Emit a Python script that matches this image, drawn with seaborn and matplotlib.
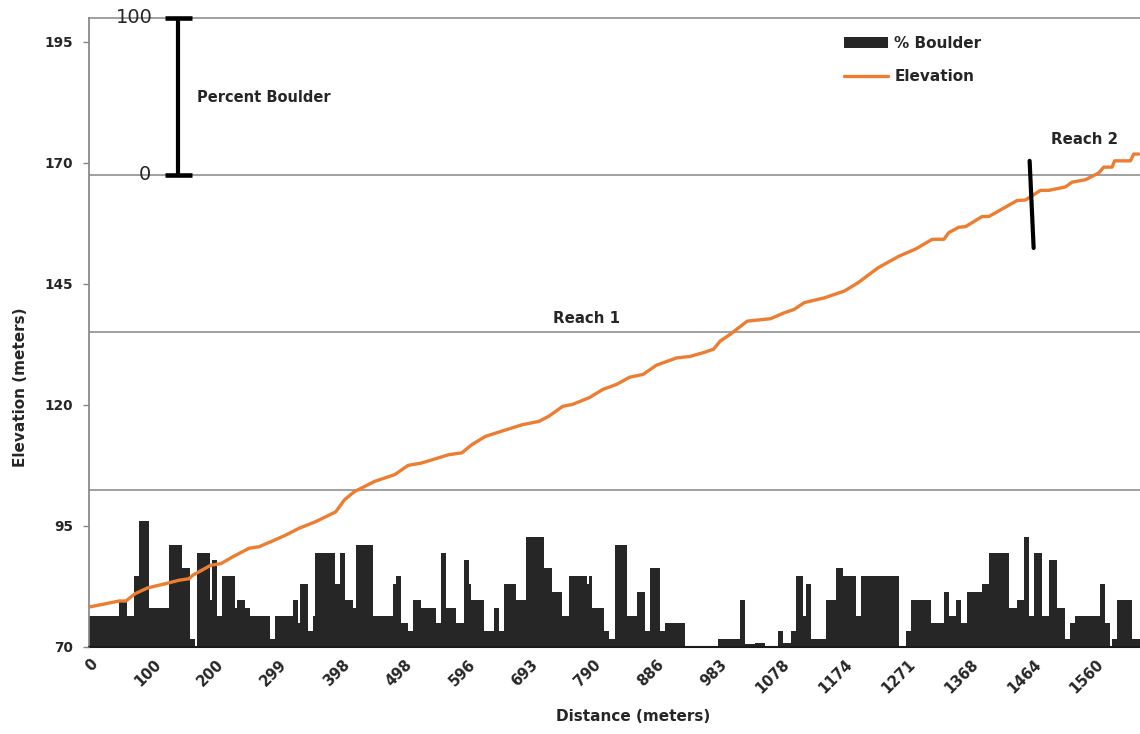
import numpy as np
import pandas as pd
import matplotlib
matplotlib.use("Agg")
import matplotlib.pyplot as plt
from matplotlib.patches import Patch
from matplotlib.lines import Line2D
import seaborn as sns

# Distance (m) printed under every 25th survey station
distance_labels = [0, 100, 200, 299, 398, 498, 596, 693, 790, 886, 983,
                   1078, 1174, 1271, 1368, 1464, 1560]
STATIONS_PER_LABEL = 25
N_STATIONS = 418

# Habitat units: first station of each unit and its percent boulder cover
unit_start = [0, 12, 15, 18, 20, 24, 32, 37, 40, 42, 43, 48, 49, 51, 53, 58, 59,
              62, 64, 72, 74, 81, 83, 84, 87, 89, 90, 98, 100, 102, 105, 106,
              113, 121, 122, 124, 127, 129, 132, 138, 140, 142, 146, 149, 151,
              152, 157, 161, 163, 165, 170, 174, 181, 184, 188, 191, 198, 199,
              200, 205, 207, 209, 214, 218, 221, 223, 227, 229, 237, 250, 259,
              261, 265, 269, 274, 276, 279, 281, 284, 285, 287, 293, 297, 300,
              305, 307, 322, 325, 327, 335, 340, 342, 345, 347, 349, 355, 358,
              366, 369, 372, 374, 376, 379, 382, 385, 388, 390, 392, 402, 404,
              406, 407, 409, 415]
unit_boulder_pct = [20, 30, 20, 45, 80, 25, 65, 50, 5, 0, 60, 30, 55, 20, 45, 25,
                    30, 25, 20, 5, 20, 30, 15, 40, 10, 20, 60, 40, 60, 30, 25, 65,
                    20, 40, 45, 15, 10, 30, 25, 15, 60, 25, 15, 55, 40, 30, 10,
                    25, 10, 40, 30, 70, 50, 35, 20, 45, 40, 45, 25, 10, 5, 65, 20,
                    35, 10, 50, 10, 15, 0, 5, 30, 2, 2.5, 0, 10, 2.5, 10, 45, 20,
                    40, 5, 30, 50, 45, 20, 45, 0, 10, 30, 15, 35, 20, 30, 15, 35,
                    40, 60, 25, 30, 70, 20, 60, 20, 55, 25, 5, 15, 20, 40, 15, 0,
                    5, 30, 5]

# Surveyed water-surface elevation along the channel
profile_station = [0, 11.5, 14.2, 17.8, 22.8, 30.1, 35.4, 39.3, 40.7, 48.0, 51.9,
                   56.6, 63.2, 67.1, 72.5, 77.7, 83.0, 89.7, 97.6, 101.1, 105.1,
                   113.1, 121.1, 126.4, 131.8, 142.5, 147.8, 151.8, 157.2, 163.8,
                   171.8, 178.5, 182.5, 187.9, 191.8, 198.5, 203.9, 209.2, 214.5,
                   219.9, 225.2, 233.2, 238.5, 243.9, 247.9, 250.6, 254.6, 261.3,
                   270.6, 275.9, 279.9, 283.9, 291.9, 299.9, 305.3, 313.3, 321.6,
                   328.3, 334.9, 339.5, 341.5, 345.5, 348.1, 354.7, 357.4, 368.6,
                   371.9, 377.9, 381.2, 387.8, 390.5, 395.8, 401.1, 403.1, 406.4,
                   407.4, 413.7, 415.0, 417.0]
profile_elev = [78.3, 79.5, 79.5, 81.0, 82.2, 83.1, 83.8, 84.1, 84.8, 86.9, 87.2,
                88.6, 90.4, 90.7, 91.9, 93.1, 94.5, 95.9, 97.9, 100.4, 102.1,
                104.2, 105.6, 107.5, 108.0, 109.7, 110.1, 111.8, 113.5, 114.6,
                115.9, 116.6, 117.7, 119.7, 120.1, 121.5, 123.2, 124.2, 125.7,
                126.3, 128.2, 129.7, 130.0, 130.8, 131.5, 133.2, 134.6, 137.3,
                137.8, 139.0, 139.7, 141.1, 142.1, 143.5, 145.2, 148.3, 150.7,
                152.2, 154.2, 154.2, 155.6, 156.7, 156.8, 158.9, 158.9, 162.2,
                162.3, 164.3, 164.3, 165.0, 166.0, 166.5, 167.9, 169.1, 169.1,
                170.4, 170.4, 171.8, 171.8]

BAR_COLOR = "#262626"
LINE_COLOR = "#ED7D31"
GRID_COLOR = "#868686"

sns.set_theme(style="white")
plt.rcParams["font.family"] = ["DejaVu Sans"]

W, H = 1140, 734
fig = plt.figure(figsize=(W / 100, H / 100), dpi=100)
ax = fig.add_axes([89 / W, 1 - 647 / H, 1 - 89 / W, (647 - 17.5) / H])

# Percent boulder as a filled step profile over the habitat units
edges = [s - 0.5 for s in unit_start] + [N_STATIONS - 0.5]
units = pd.DataFrame({
    "station": [(a + b) / 2 for a, b in zip(edges[:-1], edges[1:])],
    "boulder": unit_boulder_pct,
})
sns.histplot(data=units, x="station", weights="boulder", bins=edges,
             element="step", fill=True, color=BAR_COLOR, alpha=1,
             linewidth=0, ax=ax)
ax.set_xlim(-0.5, N_STATIONS - 0.5)
ax.set_ylim(0, 400)
ax.set_yticks([100, 200, 300])
ax.grid(axis="y", color=GRID_COLOR, linewidth=1.1)
ax.grid(axis="x", visible=False)
ax.set_axisbelow(True)
ax.set_ylabel("")

tick_pos = np.arange(len(distance_labels)) * STATIONS_PER_LABEL
ax.set_xticks(tick_pos)
ax.set_xticklabels([str(d) for d in distance_labels], rotation=45, ha="right",
                   rotation_mode="anchor", fontsize=10.5, fontweight="bold")
ax.tick_params(axis="x", length=0, pad=7)
ax.set_xlabel("Distance (meters)", fontsize=11, fontweight="bold", va="top")
ax.xaxis.set_label_coords(0.5176, -0.099)

ax.spines["right"].set_visible(False)
ax.spines["left"].set_color(GRID_COLOR)
ax.spines["top"].set_color(GRID_COLOR)
ax.spines["top"].set_linewidth(1.1)
ax.spines["bottom"].set_color("#1a1a1a")
ax.spines["bottom"].set_linewidth(1.5)

# Elevation profile on its own scale, drawn over the bars
ax2 = ax.twinx()
ax.tick_params(axis="y", left=False, right=False, labelleft=False,
               labelright=False)
sns.lineplot(x=profile_station, y=profile_elev, color=LINE_COLOR,
             linewidth=2.4, ax=ax2)
ax2.set_ylim(70, 200)
ax2.set_yticks([70, 95, 120, 145, 170, 195])
ax2.yaxis.tick_left()
ax2.yaxis.set_label_position("left")
ax2.tick_params(axis="y", left=True, right=False, length=4.3, width=1,
                color=GRID_COLOR, labelsize=9.8, pad=7)
for lab in ax2.get_yticklabels():
    lab.set_fontweight("bold")
for s in ax2.spines.values():
    s.set_visible(False)
ax2.set_ylabel("Elevation (meters)", fontsize=11, fontweight="bold")
ax2.yaxis.set_label_coords(-0.058, 0.412)

# Scale bar for the percent-boulder axis
ax.plot([35, 35], [300, 400], color="black", linewidth=3, clip_on=False,
        solid_capstyle="butt", zorder=6)
for yv in (300, 400):
    ax.plot([29.7, 40.3], [yv, yv], color="black", linewidth=3.3,
            clip_on=False, solid_capstyle="butt", zorder=6)
ax.text(25, 400, "100", ha="right", va="center", fontsize=14, zorder=6)
ax.text(24.2, 300, "0", ha="right", va="center", fontsize=14, zorder=6)
ax.text(42.3, 349, "Percent Boulder", ha="left", va="center",
        fontsize=10.5, fontweight="bold")

# Reach labels and the boundary between them
ax.text(197.3, 209, "Reach 1", ha="center", va="center", fontsize=10.8,
        fontweight="bold")
ax.text(395.5, 322.5, "Reach 2", ha="center", va="center", fontsize=10.8,
        fontweight="bold")
ax2.plot([373.6, 375.2], [170.4, 152.4], color="black", linewidth=3)

handles = [Patch(facecolor=BAR_COLOR, edgecolor="none", label="% Boulder"),
           Line2D([], [], color=LINE_COLOR, linewidth=2.4, label="Elevation")]
fig.legend(handles=handles, loc="upper left",
           bbox_to_anchor=(844 / W, 1 - 36 / H), frameon=False,
           prop={"size": 11, "weight": "bold"}, handlelength=2.9,
           handleheight=0.75, labelspacing=1.2, borderpad=0,
           borderaxespad=0, handletextpad=0.4)

fig.savefig("out.png", dpi=100)
